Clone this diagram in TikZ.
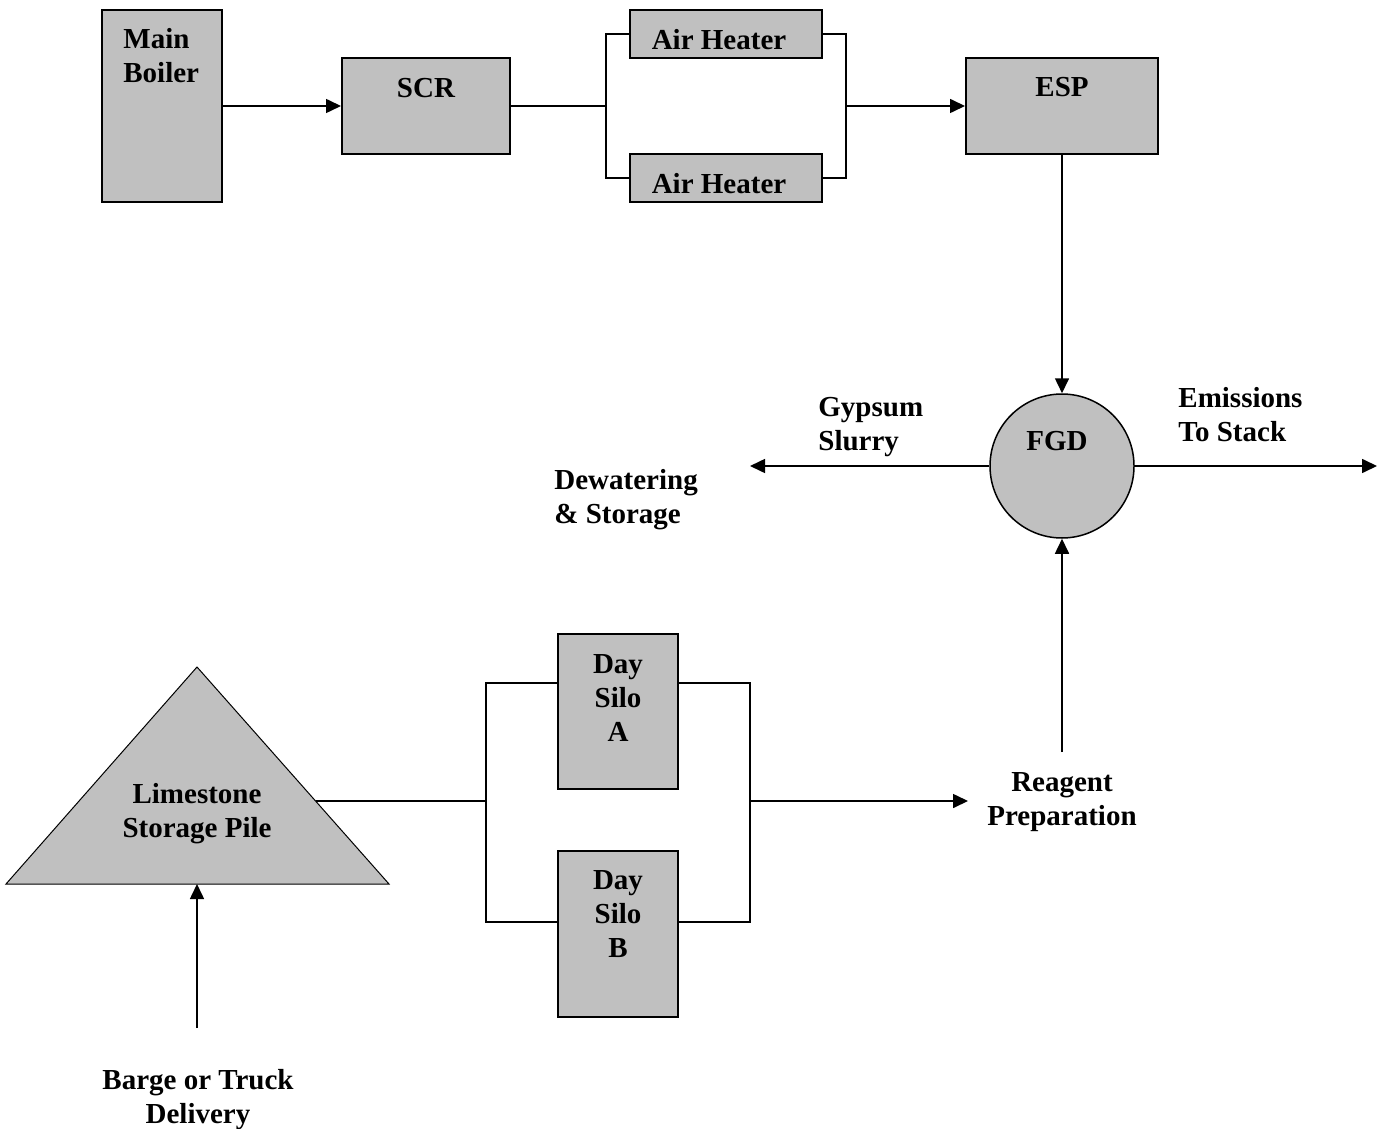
\documentclass[tikz,border=0pt]{standalone}
\usepackage{fontspec}
\setmainfont{Liberation Serif}
\usetikzlibrary{arrows.meta}
\definecolor{boxgray}{HTML}{C0C0C0}
\newcommand\lblfont{\fontsize{14.5}{17}\selectfont\bfseries}
\begin{document}
\begin{tikzpicture}[x=0.5pt,y=-0.5pt,
  box/.style={draw, line width=1pt, fill=boxgray, inner sep=0pt},
  conn/.style={line width=0.8pt},
  arr/.style={conn, -{Triangle[length=7.5pt,width=7pt]}},
  txt/.style={font=\lblfont, inner sep=0pt}]
\useasboundingbox (0,0) rectangle (1379,1128);

% top row
\node[box, minimum width=60pt, minimum height=96pt] (boiler) at (162,106) {};
\node[txt, anchor=west, align=left] (boilerT) at (123,56) {Main\\Boiler};
\node[box, minimum width=84pt, minimum height=48pt] (scr) at (426,106) {};
\node[txt] (scrT) at (426,88) {SCR};
\node[box, minimum width=96pt, minimum height=24pt] (ah1) at (726,34) {};
\node[txt] (ah1T) at (719,40) {Air Heater};
\node[box, minimum width=96pt, minimum height=24pt] (ah2) at (726,178) {};
\node[txt] (ah2T) at (719,184) {Air Heater};
\node[box, minimum width=96pt, minimum height=48pt] (esp) at (1062,106) {};
\node[txt] (espT) at (1062,87) {ESP};

\coordinate (splitL) at (606,106);
\coordinate (joinR) at (846,106);
\draw[arr] (boiler.east) -- (scr.west);
\draw[conn] (scr.east) -- (splitL);
\draw[conn] (ah1.west) -| (splitL) |- (ah2.west);
\draw[conn] (ah1.east) -| (joinR) |- (ah2.east);
\draw[arr] (joinR) -- (esp.west);

% FGD
\node[draw, line width=0.75pt, fill=boxgray, circle, minimum size=72pt, inner sep=0pt] (fgd) at (1062,466) {};
\node[txt] (fgdT) at (1057,441) {FGD};
\draw[arr] (esp.south) -- (fgd.north);
\coordinate (gypEnd) at (750,466);
\coordinate (stackEnd) at (1377,466);
\draw[arr] (fgd.west) -- (gypEnd);
\draw[arr] (fgd.east) -- (stackEnd);
\node[txt, anchor=west, align=left] (gypT) at (818,427) {Gypsum\\Slurry};
\node[txt, anchor=west, align=left] (stackT) at (1178,415) {Emissions\\To Stack};
\node[txt, anchor=west, align=left] (dewT) at (554,500) {Dewatering\\\& Storage};

% reagent
\node[txt, align=center] (reag) at (1062,802) {Reagent\\Preparation};
\coordinate (reagTop) at (1062,752);
\coordinate (reagIn) at (968,801);
\draw[arr] (reagTop) -- (fgd.south);

% limestone pile
\coordinate (pileTop) at (197,667);
\coordinate (pileR) at (389,884);
\coordinate (pileL) at (6,884);
\draw[line width=0.5pt, fill=boxgray] (pileTop) -- (pileR) -- (pileL) -- cycle;
\node[txt, align=center] (pileT) at (197,814) {Limestone\\Storage Pile};
\coordinate (pileOut) at (316,801);
\coordinate (pileBase) at (197,884);

% silos
\node[box, minimum width=60pt, minimum height=77.5pt] (siloA) at (618,711.5) {};
\node[txt, align=center] (siloAT) at (618,698) {Day\\Silo\\A};
\node[box, minimum width=60pt, minimum height=83pt] (siloB) at (618,933.5) {};
\node[txt, align=center] (siloBT) at (618,914) {Day\\Silo\\B};
\coordinate (splitS) at (486,801);
\coordinate (joinS) at (750,801);
\draw[conn] (pileOut) -- (splitS);
\draw[conn] (siloA.west |- 0,683) -| (splitS) |- (siloB.west |- 0,922);
\draw[conn] (siloA.east |- 0,683) -| (joinS) |- (siloB.east |- 0,922);
\draw[arr] (joinS) -- (reagIn);

% barge
\node[txt, align=center] (barge) at (198,1100) {Barge or Truck\\Delivery};
\coordinate (bargeTop) at (197,1028);
\draw[arr] (bargeTop) -- (pileBase);
\end{tikzpicture}
\end{document}
